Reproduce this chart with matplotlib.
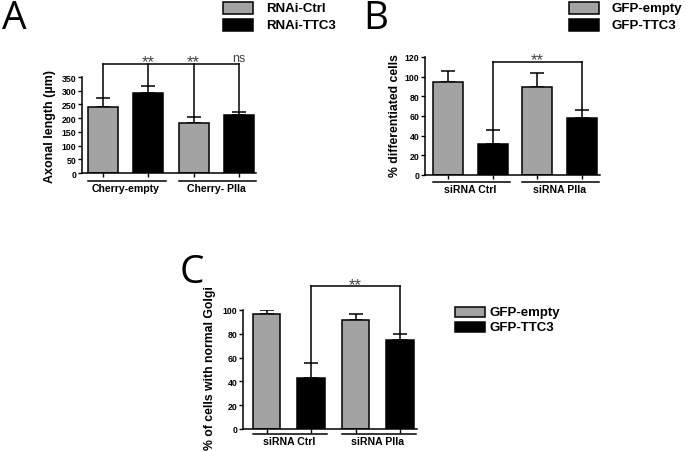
import numpy as np
import matplotlib.pyplot as plt
from matplotlib.patches import Rectangle
from matplotlib.transforms import offset_copy

plt.rcParams['font.family'] = ['Liberation Sans', 'DejaVu Sans']

# dados
a_vals = [240, 292, 181, 210]
a_err = [33, 25, 22, 14]
a_groups = ["Cherry-empty", "Cherry- PIIa"]
a_legend = ["RNAi-Ctrl", "RNAi-TTC3"]
a_marks = ["**", "**", "ns"]

b_vals = [95, 32, 90, 58]
b_err = [11, 14, 14, 8]
b_groups = ["siRNA Ctrl", "siRNA PIIa"]
b_legend = ["GFP-empty", "GFP-TTC3"]

c_vals = [97, 43, 92, 74.5]
c_err = [3, 12.5, 4.5, 5.5]
c_groups = ["siRNA Ctrl", "siRNA PIIa"]
c_legend = ["GFP-empty", "GFP-TTC3"]

W, H = 686, 452
GRAY = '#a3a3a3'
colors = [GRAY, 'black', GRAY, 'black']

fig = plt.figure(figsize=(W / 100, H / 100), dpi=100)


def caixa(left, top, right, bottom):
    return [left / W, 1 - bottom / H, (right - left) / W, (bottom - top) / H]


def painel(rect, vals, err, groups, ylim, yticks, xlim, width, ylabel, lab_xy, lab_dy, lab_size):
    ax = fig.add_axes(rect)
    x = np.arange(len(vals))
    ax.bar(x, vals, width=width, color=colors, edgecolor='black', linewidth=1.1,
           yerr=[np.zeros(len(err)), err], zorder=2,
           error_kw=dict(ecolor='black', elinewidth=1.1, capsize=5, capthick=1.1, zorder=1))
    ax.set_xlim(*xlim)
    ax.set_ylim(*ylim)
    ax.set_yticks(yticks)
    ax.set_xticks(x)
    ax.set_xticklabels([])
    for s in ['top', 'right']:
        ax.spines[s].set_visible(False)
    for s in ['left', 'bottom']:
        ax.spines[s].set_linewidth(1.1)
    ax.tick_params(axis='y', length=3, width=1.0, pad=1, labelsize=6.3)
    ax.tick_params(axis='x', length=3, width=1.0)
    for t in ax.get_yticklabels():
        t.set_fontweight('bold')
    ax.set_ylabel(ylabel, fontsize=lab_size, fontweight='bold')
    ax.yaxis.set_label_coords(*lab_xy)
    # linhas dos grupos
    tr = offset_copy(ax.get_xaxis_transform(), fig=fig, y=-lab_dy, units='dots')
    trt = offset_copy(ax.get_xaxis_transform(), fig=fig, y=-lab_dy - 3, units='dots')
    for i, g in enumerate(groups):
        x0 = 2 * i - width / 2
        x1 = 2 * i + 1 + width / 2 + 0.05
        ax.plot([x0, x1], [0, 0], color='black', lw=1.1, transform=tr, clip_on=False)
        ax.text(2 * i + 0.5, 0, g, transform=trt, ha='center', va='top',
                fontsize=7.6, fontweight='bold')
    return ax


def colchete(ax, xs, tops, yb, mark_x, marks):
    ax.plot([xs[0], xs[-1]], [yb, yb], color='black', lw=1.1, clip_on=False)
    for xx, tt in zip(xs, tops):
        ax.plot([xx, xx], [tt, yb], color='black', lw=1.1, clip_on=False)
    tr = offset_copy(ax.transData, fig=fig, y=6, units='dots')
    for mx, m in zip(mark_x, marks):
        if m == "ns":
            ax.text(mx, yb, m, transform=tr, ha='center', va='center', fontsize=9,
                    color='#444444', clip_on=False)
        else:
            ax.text(mx, yb, m, transform=offset_copy(tr, fig=fig, y=-4, units='dots'),
                    ha='center', va='center', fontsize=12, color='#444444', clip_on=False)


def legenda(x, y0, y1, labels, gap):
    for (ya, yb), lab, c in zip([y0, y1], labels, [GRAY, 'black']):
        fig.add_artist(Rectangle((x / W, 1 - yb / H), 30 / W, (yb - ya) / H,
                                 transform=fig.transFigure, facecolor=c,
                                 edgecolor='black', linewidth=1.1))
        fig.text((x + 30 + gap) / W, 1 - (ya + yb) / 2 / H, lab, ha='left', va='center',
                 fontsize=9.5, fontweight='bold')


# painel A
axA = painel(caixa(82, 78, 256, 174), a_vals, a_err, a_groups, (0, 350),
             np.arange(0, 351, 50), (-0.464, 3.378), 0.66, "Axonal length (\u00b5m)",
             (-0.15, 0.49), 7.5, 9)
topsA = [v + e for v, e in zip(a_vals, a_err)]
colchete(axA, [0, 1, 2, 3], topsA, 397, [1, 2, 3], a_marks)

# painel B
axB = painel(caixa(425, 58, 600, 176), b_vals, b_err, b_groups, (0, 120),
             np.arange(0, 121, 20), (-0.515, 3.4), 0.67, "% differentiated cells",
             (-0.14, 0.51), 6.5, 8.8)
topsB = [v + e for v, e in zip(b_vals, b_err)]
colchete(axB, [1, 3], [topsB[1], topsB[3]], 115, [2], ["**"])

# painel C
axC = painel(caixa(243, 311, 417, 430), c_vals, c_err, c_groups, (0, 100),
             np.arange(0, 101, 20), (-0.53, 3.38), 0.62, "% of cells with normal Golgi",
             (-0.155, 0.52), 4.5, 8.8)
topsC = [v + e for v, e in zip(c_vals, c_err)]
colchete(axC, [1, 3], [topsC[1], topsC[3]], 120, [2], ["**"])

# letras dos paineis
for lx, ly, l in [(2, 19, "A"), (363, 19, "B"), (180, 273, "C")]:
    fig.text(lx / W, 1 - ly / H, l, fontsize=28, ha='left', va='center',
             family=['Open Sans', 'DejaVu Sans'])

legenda(223, (3, 15), (20, 32), a_legend, 13)
legenda(569, (3, 15), (20, 32), b_legend, 13)
legenda(455, (308, 318), (323, 333), c_legend, 5)

fig.savefig("out.png", dpi=100)
